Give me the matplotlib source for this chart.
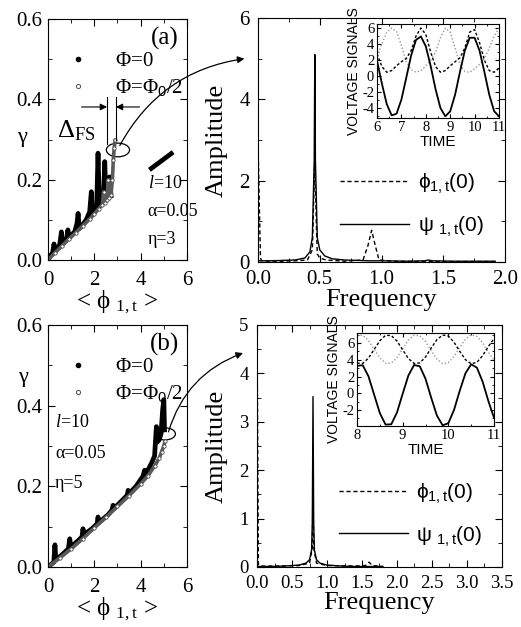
import numpy as np
import matplotlib
matplotlib.use('Agg')
import matplotlib.pyplot as plt
from matplotlib.patches import Ellipse, ConnectionPatch
from matplotlib.lines import Line2D
from matplotlib.ticker import MultipleLocator, FormatStrFormatter

plt.rcParams['font.family'] = ['Liberation Serif', 'DejaVu Serif']
plt.rcParams['mathtext.fontset'] = 'custom'
plt.rcParams['mathtext.rm'] = 'Liberation Serif'
plt.rcParams['mathtext.it'] = 'Liberation Serif:italic'
plt.rcParams['mathtext.sf'] = 'Liberation Sans'
plt.rcParams['axes.unicode_minus'] = False

# ---- gamma vs <phi> curves, panel (a), eta=3
ga_x0 = [0, 0.12, 0.2, 0.26, 0.3, 0.4, 0.5, 0.58, 0.62, 0.72, 0.8, 0.86, 0.9, 1.0, 1.15,
         1.25, 1.3, 1.35, 1.5, 1.65, 1.8, 1.87, 1.92, 2.0, 2.1, 2.16, 2.22, 2.3, 2.4, 2.45,
         2.5, 2.55, 2.62, 2.66, 2.72]
ga_y0 = [0, 0.012, 0.018, 0.04, 0.025, 0.03, 0.036, 0.07, 0.042, 0.048, 0.052, 0.075, 0.056,
         0.062, 0.07, 0.09, 0.116, 0.078, 0.088, 0.1, 0.12, 0.17, 0.112, 0.12, 0.13, 0.266,
         0.138, 0.142, 0.16, 0.245, 0.15, 0.155, 0.18, 0.207, 0.16]
ga_seg_x = [4.46, 5.32]
ga_seg_y = [0.228, 0.265]
ga_xh = [0, 0.3, 0.6, 0.9, 1.2, 1.5, 1.8, 2.0, 2.2, 2.35, 2.4, 2.45, 2.55, 2.6, 2.65, 2.72,
         2.78, 2.82, 2.86, 2.9]
ga_yh = [0, 0.018, 0.035, 0.052, 0.068, 0.085, 0.102, 0.115, 0.128, 0.138, 0.17, 0.142, 0.15,
         0.2, 0.155, 0.162, 0.2, 0.25, 0.28, 0.298]

# ---- gamma vs <phi> curves, panel (b), eta=5
gb_x0 = [0, 0.25, 0.3, 0.34, 0.6, 0.88, 0.94, 0.98, 1.3, 1.47, 1.51, 1.55, 1.9, 2.12, 2.16,
         2.2, 2.6, 2.77, 2.81, 2.85, 3.2, 3.42, 3.46, 3.5, 3.8, 4.1, 4.17, 4.22, 4.45, 4.6,
         4.68, 4.72, 4.8, 4.88, 4.95, 5.0, 5.03]
gb_y0 = [0, 0.012, 0.055, 0.018, 0.03, 0.045, 0.07, 0.05, 0.065, 0.075, 0.095, 0.08, 0.095,
         0.107, 0.124, 0.11, 0.13, 0.142, 0.153, 0.145, 0.165, 0.178, 0.19, 0.182, 0.2, 0.225,
         0.24, 0.23, 0.255, 0.275, 0.348, 0.31, 0.315, 0.33, 0.39, 0.415, 0.34]
gb_xh = [0, 0.5, 1.0, 1.5, 2.0, 2.5, 3.0, 3.5, 4.0, 4.3, 4.6, 4.8, 4.9, 5.0, 5.05]
gb_yh = [0, 0.022, 0.045, 0.07, 0.097, 0.123, 0.15, 0.177, 0.206, 0.225, 0.25, 0.27, 0.285,
         0.3, 0.312]

# ---- spectra
fa_psi = [0.0, 0.1, 0.2, 0.3, 0.38, 0.42, 0.44, 0.455, 0.46, 0.465, 0.48, 0.5, 0.54, 0.6,
          0.7, 0.8, 0.9, 1.0, 1.2, 1.35, 1.38, 1.41, 1.6, 1.8, 1.92]
aa_psi = [0.03, 0.03, 0.04, 0.05, 0.1, 0.25, 0.6, 2.5, 5.1, 2.5, 0.6, 0.3, 0.15, 0.08, 0.05,
          0.04, 0.03, 0.03, 0.02, 0.03, 0.05, 0.03, 0.02, 0.02, 0.02]
fa_phi = [0.0, 0.01, 0.02, 0.03, 0.1, 0.2, 0.3, 0.4, 0.44, 0.46, 0.47, 0.48, 0.5, 0.55, 0.7,
          0.85, 0.89, 0.92, 0.95, 0.98, 1.1, 1.3, 1.5, 1.92]
aa_phi = [3.0, 1.5, 0.1, 0.03, 0.02, 0.02, 0.03, 0.05, 0.3, 2.5, 1.2, 0.2, 0.1, 0.05, 0.02,
          0.05, 0.4, 0.78, 0.4, 0.05, 0.02, 0.01, 0.01, 0.01]
fb_psi = [0.0, 0.2, 0.4, 0.6, 0.7, 0.75, 0.78, 0.79, 0.8, 0.81, 0.82, 0.85, 0.9, 1.0, 1.2,
          1.4, 1.6, 1.8]
ab_psi = [0.01, 0.01, 0.02, 0.04, 0.08, 0.15, 0.35, 0.9, 3.52, 0.9, 0.35, 0.15, 0.08, 0.04,
          0.02, 0.01, 0.01, 0.01]
fb_phi = [0.0, 0.01, 0.02, 0.04, 0.3, 0.6, 0.75, 0.79, 0.8, 0.81, 0.85, 1.0, 1.4, 1.55, 1.6,
          1.65, 1.8]
ab_phi = [5.0, 2.5, 0.05, 0.02, 0.02, 0.03, 0.08, 0.4, 1.75, 0.4, 0.08, 0.03, 0.02, 0.03, 0.1,
          0.03, 0.01]

# ---- voltage signals (insets)
ta = [6.0, 6.2, 6.4, 6.6, 6.8, 7.0, 7.2, 7.4, 7.6, 7.8, 8.0, 8.2, 8.4, 8.6, 8.8, 9.0, 9.2,
      9.4, 9.6, 9.8, 10.0, 10.2, 10.4, 10.6, 10.8, 11.0]
va_psi = [1.96, -0.91, -3.47, -4.87, -4.67, -2.91, -0.18, 2.60, 4.53, 4.95, 3.72, 1.26, -1.61,
          -3.96, -4.99, -4.36, -2.30, 0.54, 3.20, 4.79, 4.79, 3.20, 0.55, -2.29, -4.35, -4.99]
va_phi = [2.8, 1.2, 0.5, 0.7, 1.3, 1.8, 2.2, 3.2, 5.0, 6.0, 5.2, 3.0, 1.2, 0.5, 0.7, 1.3, 1.8,
          2.3, 3.5, 5.5, 5.8, 4.2, 2.0, 0.7, 0.5, 1.0]
va_phi2 = [2.5, 4.0, 5.5, 6.0, 5.6, 3.8, 1.8, 0.8, 0.5, 0.7, 1.3, 2.0, 3.0, 4.8, 6.0, 5.5, 3.5,
           1.5, 0.6, 0.5, 0.9, 1.5, 2.2, 3.5, 5.0, 6.0]
tb = [8.0, 8.125, 8.25, 8.375, 8.5, 8.625, 8.75, 8.875, 9.0, 9.125, 9.25, 9.375, 9.5, 9.625,
      9.75, 9.875, 10.0, 10.125, 10.25, 10.375, 10.5, 10.625, 10.75, 10.875, 11.0]
vb_psi = [3.27, 3.36, 2.05, -0.15, -2.36, -3.73, -3.70, -2.30, -0.06, 2.12, 3.38, 3.23, 1.74,
          -0.53, -2.66, -3.82, -3.57, -1.97, 0.31, 2.40, 3.46, 3.07, 1.40, -0.90, -2.93]
vb_phi = [3.61, 3.57, 4.19, 5.23, 6.27, 6.92, 6.90, 6.24, 5.19, 4.15, 3.56, 3.63, 4.33, 5.41,
          6.41, 6.96, 6.84, 6.09, 5.01, 4.02, 3.52, 3.70, 4.49, 5.58, 6.54]
vb_phi2 = [6.89, 6.93, 6.31, 5.27, 4.23, 3.58, 3.60, 4.26, 5.31, 6.35, 6.94, 6.87, 6.17, 5.09,
           4.09, 3.54, 3.66, 4.41, 5.49, 6.48, 6.98, 6.80, 6.01, 4.92, 3.96]

SANS = ['Liberation Sans', 'DejaVu Sans']
SERIF = ['Liberation Serif', 'DejaVu Serif']


def style(ax, xmaj, xmin, ymaj, ymin, size, xpad=4, ypad=4):
    ax.xaxis.set_major_locator(MultipleLocator(xmaj))
    ax.xaxis.set_minor_locator(MultipleLocator(xmin))
    ax.yaxis.set_major_locator(MultipleLocator(ymaj))
    ax.yaxis.set_minor_locator(MultipleLocator(ymin))
    ax.tick_params(which='both', direction='in', top=True, right=True, labelsize=size)
    ax.tick_params(axis='x', which='both', pad=xpad)
    ax.tick_params(axis='y', which='both', pad=ypad)
    ax.tick_params(which='major', length=5)
    ax.tick_params(which='minor', length=3)


def gamma_panel(ax, x0, y0, xh, yh, tag, eta, txt_pos):
    ax.plot(x0, y0, color='k', lw=3.4, solid_joinstyle='round')
    ax.plot(xh, yh, color='0.35', lw=2.6, marker='o', ms=2.4, mfc='white', mec='0.3', mew=0.6)
    ax.set_xlim(0, 6)
    ax.set_ylim(0, 0.6)
    style(ax, 2, 1, 0.2, 0.1, 15, xpad=8)
    ax.yaxis.set_major_formatter(FormatStrFormatter('%.1f'))
    ax.set_xlabel('< ϕ $_{\\mathrm{1,t}}$ >', fontsize=18, labelpad=-1, family=SERIF)
    handles = [Line2D([], [], ls='none', marker='o', ms=3, color='k'),
               Line2D([], [], ls='none', marker='o', ms=3, mfc='white', mec='0.3', mew=0.7)]
    ax.legend(handles, [r'$\Phi$=0', r'$\Phi$=$\Phi_\mathsf{0}$/2'], loc='upper left',
              bbox_to_anchor=(0.08, 0.9), frameon=False, fontsize=15,
              handletextpad=1.3, labelspacing=0.3, borderaxespad=0, handlelength=1.0)
    ax.text(0.94, 0.92, tag, transform=ax.transAxes, fontsize=18, ha='right', va='center')
    tx, ty, dy = txt_pos
    ax.text(tx, ty, r'$l$=10', fontsize=13, va='center')
    ax.text(tx, ty - dy, 'α=0.05', fontsize=13, va='center')
    ax.text(tx, ty - 2 * dy, 'η=%d' % eta, fontsize=13, va='center')


def spectrum_panel(ax, f_phi, a_phi, f_psi, a_psi, leg_y):
    ax.plot(f_phi, a_phi, color='k', lw=1.0, ls=(0, (3, 2)), label='ϕ$_{\\mathsf{1,t}}$(0)')
    ax.plot(f_psi, a_psi, color='k', lw=1.0, label='ψ $_{\\mathsf{1,t}}$(0)')
    ax.set_ylabel('Amplitude', fontsize=19, labelpad=8)
    ax.set_xlabel('Frequency', fontsize=19, labelpad=0)
    ax.legend(loc='lower left', bbox_to_anchor=(0.3, leg_y), frameon=False, handlelength=3.3,
              prop={'family': SANS, 'size': 15}, labelspacing=0.9,
              handletextpad=0.4, borderaxespad=0)


def inset_panel(ax, t, v_psi, v_phi, v_phi2):
    ax.plot(t, v_phi2, color='0.6', lw=1.0, ls=(0, (1, 1.5)))
    ax.plot(t, v_phi, color='k', lw=1.0, ls=(0, (2, 1.5)))
    ax.plot(t, v_psi, color='k', lw=1.3)
    ax.set_ylabel('VOLTAGE SIGNALS', fontsize=10, family=SANS, labelpad=1)
    ax.set_xlabel('TIME', fontsize=11, family=SANS, labelpad=1)


fig = plt.figure(figsize=(5.21, 6.27), dpi=100)

# panel (a)
ax_ga = fig.add_axes([0.0921, 0.5853, 0.2668, 0.3844])
gamma_panel(ax_ga, ga_x0, ga_y0, ga_xh, ga_yh, '(a)', 3, (4.3, 0.19, 0.07))
ax_ga.plot(ga_seg_x, ga_seg_y, color='k', lw=3.4)
ax_ga.text(-0.19, 0.51, 'γ', transform=ax_ga.transAxes, fontsize=16, ha='center', va='center')
ax_ga.add_patch(Ellipse((3.02, 0.274), 1.0, 0.034, fill=False, lw=0.9, color='k'))
ax_ga.plot([2.55, 2.55], [0.29, 0.405], color='k', lw=0.8)
ax_ga.plot([2.93, 2.93], [0.30, 0.405], color='k', lw=0.8)
ax_ga.annotate('', xy=(2.55, 0.381), xytext=(1.45, 0.381),
               arrowprops=dict(arrowstyle='-|>', lw=0.8, color='k', shrinkA=0, shrinkB=0))
ax_ga.annotate('', xy=(2.93, 0.381), xytext=(3.95, 0.381),
               arrowprops=dict(arrowstyle='-|>', lw=0.8, color='k', shrinkA=0, shrinkB=0))
ax_ga.text(1.2, 0.322, r'$\Delta_{\mathrm{FS}}$', fontsize=19, ha='center', va='center')

ax_sa = fig.add_axes([0.4952, 0.5821, 0.4741, 0.3892])
spectrum_panel(ax_sa, fa_phi, aa_phi, fa_psi, aa_psi, 0.065)
ax_sa.set_xlim(0, 2)
ax_sa.set_ylim(0, 6)
style(ax_sa, 0.5, 0.25, 2, 1, 15, xpad=6, ypad=6)
ax_sa.xaxis.set_major_formatter(FormatStrFormatter('%.1f'))

ax_ia = fig.add_axes([0.7236, 0.8118, 0.2342, 0.1499])
inset_panel(ax_ia, ta, va_psi, va_phi, va_phi2)
ax_ia.set_xlim(6, 11)
ax_ia.set_ylim(-5.2, 6.5)
style(ax_ia, 1, 0.5, 2, 1, 10.5, xpad=2, ypad=2)
ax_ia.tick_params(which='major', length=3)
ax_ia.tick_params(which='minor', length=1.5)

# panel (b)
ax_gb = fig.add_axes([0.0921, 0.0957, 0.2668, 0.386])
gamma_panel(ax_gb, gb_x0, gb_y0, gb_xh, gb_yh, '(b)', 5, (0.3, 0.357, 0.075))
ax_gb.text(-0.18, 0.785, 'γ', transform=ax_gb.transAxes, fontsize=16, ha='center', va='center')
ax_gb.add_patch(Ellipse((5.05, 0.33), 0.9, 0.03, fill=False, lw=0.9, color='k'))

ax_sb = fig.add_axes([0.4933, 0.0957, 0.4702, 0.386])
spectrum_panel(ax_sb, fb_phi, ab_phi, fb_psi, ab_psi, 0.045)
ax_sb.set_xlim(0, 3.5)
ax_sb.set_ylim(0, 5)
style(ax_sb, 0.5, 0.25, 1, 0.5, 13.5, xpad=6, ypad=6)
ax_sb.xaxis.set_major_formatter(FormatStrFormatter('%.1f'))

ax_ib = fig.add_axes([0.6852, 0.3206, 0.263, 0.1483])
inset_panel(ax_ib, tb, vb_psi, vb_phi, vb_phi2)
ax_ib.set_xlim(8, 11)
ax_ib.set_ylim(-3.9, 7.2)
style(ax_ib, 1, 0.5, 2, 1, 10.5, xpad=2, ypad=2)
ax_ib.tick_params(which='major', length=3)
ax_ib.tick_params(which='minor', length=1.5)

# connecting arrows
for a_from, p_from, a_to, p_to in [(ax_ga, (3.1, 0.285), ax_sa, (-0.11, 5.0)),
                                   (ax_gb, (5.2, 0.335), ax_sb, (-0.2, 4.42))]:
    con = ConnectionPatch(xyA=p_from, coordsA=a_from.transData, xyB=p_to, coordsB=a_to.transData,
                          arrowstyle='-|>', connectionstyle='arc3,rad=-0.25', lw=0.9,
                          color='k', mutation_scale=10)
    fig.add_artist(con)

fig.savefig('out.png', dpi=100)
